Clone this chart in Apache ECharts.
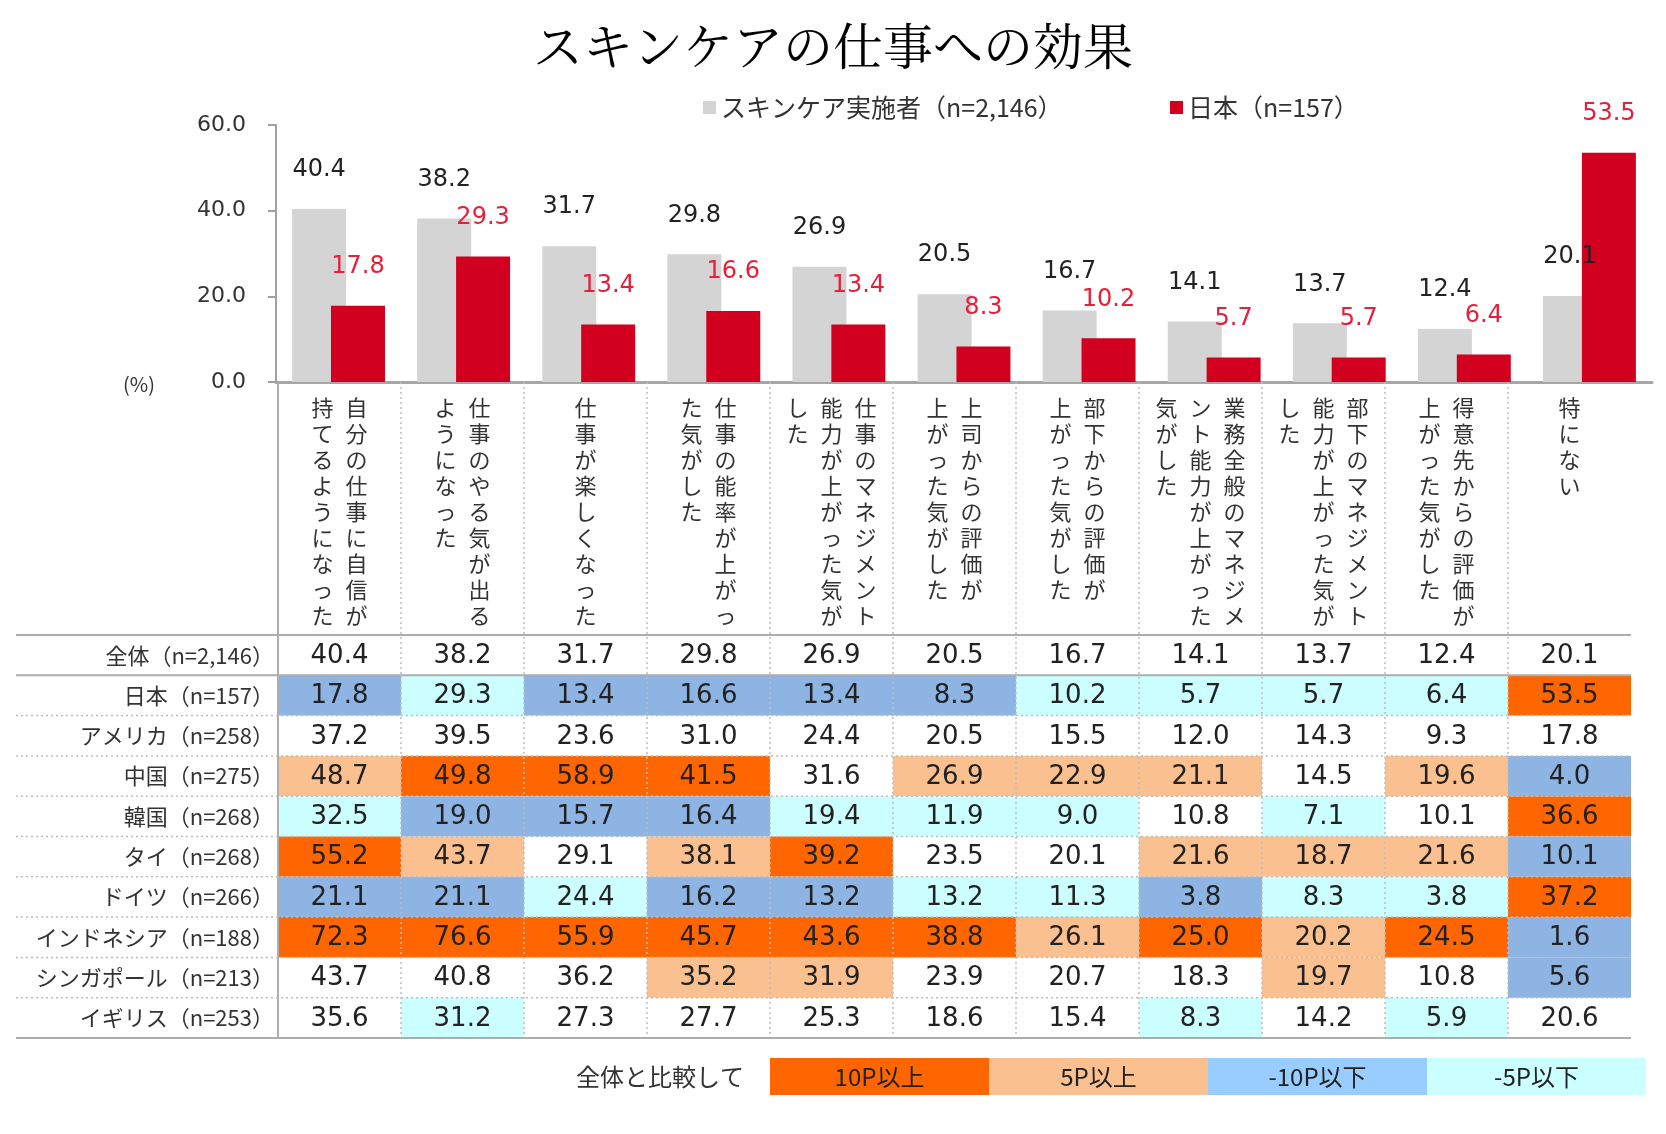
<!DOCTYPE html>
<html><head><meta charset="utf-8">
<script src="https://cdn.jsdelivr.net/npm/echarts@6/dist/echarts.min.js"></script>
<style>html,body{margin:0;padding:0;background:#fff}#c{width:1666px;height:1134px}</style>
</head><body><div id="c"></div>
<script>
// ---------- data ----------
const titleText = 'スキンケアの仕事への効果';
const categories = [
  '自分の仕事に自信が\n持てるようになった',
  '仕事のやる気が出る\nようになった',
  '仕事が楽しくなった',
  '仕事の能率が上がっ\nた気がした',
  '仕事のマネジメント\n能力が上がった気が\nした',
  '上司からの評価が\n上がった気がした',
  '部下からの評価が\n上がった気がした',
  '業務全般のマネジメ\nント能力が上がった\n気がした',
  '部下のマネジメント\n能力が上がった気が\nした',
  '得意先からの評価が\n上がった気がした',
  '特にない'
];
const seriesNames = ['スキンケア実施者（n=2,146）', '日本（n=157）'];
const overall   = [40.4, 38.2, 31.7, 29.8, 26.9, 20.5, 16.7, 14.1, 13.7, 12.4, 20.1];
const japan     = [17.8, 29.3, 13.4, 16.6, 13.4, 8.3, 10.2, 5.7, 5.7, 6.4, 53.5];
const usa       = [37.2, 39.5, 23.6, 31.0, 24.4, 20.5, 15.5, 12.0, 14.3, 9.3, 17.8];
const china     = [48.7, 49.8, 58.9, 41.5, 31.6, 26.9, 22.9, 21.1, 14.5, 19.6, 4.0];
const korea     = [32.5, 19.0, 15.7, 16.4, 19.4, 11.9, 9.0, 10.8, 7.1, 10.1, 36.6];
const thailand  = [55.2, 43.7, 29.1, 38.1, 39.2, 23.5, 20.1, 21.6, 18.7, 21.6, 10.1];
const germany   = [21.1, 21.1, 24.4, 16.2, 13.2, 13.2, 11.3, 3.8, 8.3, 3.8, 37.2];
const indonesia = [72.3, 76.6, 55.9, 45.7, 43.6, 38.8, 26.1, 25.0, 20.2, 24.5, 1.6];
const singapore = [43.7, 40.8, 36.2, 35.2, 31.9, 23.9, 20.7, 18.3, 19.7, 10.8, 5.6];
const uk        = [35.6, 31.2, 27.3, 27.7, 25.3, 18.6, 15.4, 8.3, 14.2, 5.9, 20.6];
const rowLabels = ['全体（n=2,146）', '日本（n=157）', 'アメリカ（n=258）', '中国（n=275）', '韓国（n=268）',
  'タイ（n=268）', 'ドイツ（n=266）', 'インドネシア（n=188）', 'シンガポール（n=213）', 'イギリス（n=253）'];
const tableRows = [overall, japan, usa, china, korea, thailand, germany, indonesia, singapore, uk];
// O: 10P以上, P: 5P以上, B: -10P以下, C: -5P以下, .: none
const rowCodes = [
  '...........',
  'BCBBBBCCCCO',
  '...........',
  'POOO.PPP.PB',
  'CBBBCCC.C.O',
  'OP.PO..PPPB',
  'BBCBBCCBCCO',
  'OOOOOOPOPOB',
  '...PP...P.B',
  '.C.....C.C.'
];
const legendTitle = '全体と比較して';
const legendLabels = ['10P以上', '5P以上', '-10P以下', '-5P以下'];
const yMin = 0, yMax = 60, yInterval = 20;

// ---------- styles ----------
const CJK = '"Noto Sans CJK JP", "Noto Sans", sans-serif';
const NUM = '"DejaVu Sans", Verdana, sans-serif';
const cellFill = { O: '#ff6600', P: '#fac090', B: '#8db4e2', C: '#ccffff' };
const legendFill = ['#ff6600', '#fac090', '#99ccff', '#ccffff'];
const codeKeys = ['O', 'P', 'B', 'C'];
const LABEL_AREA = 253;

function verticalLabel(s) {
  const cols = s.split('\n').map(c => Array.from(c));
  const n = 9, lines = [];
  for (let i = 0; i < n; i++) {
    const parts = [];
    for (let k = cols.length - 1; k >= 0; k--) parts.push('{c|' + (cols[k][i] || '　') + '}');
    lines.push(parts.join('{g| }'));
  }
  return lines.join('\n');
}

const cellData = [];
tableRows.forEach((row, r) => row.forEach((v, c) => {
  const ch = rowCodes[r][c];
  cellData.push([c, r, v, codeKeys.indexOf(ch) + 1]);
}));
const frameData = rowLabels.map((_, i) => [0, i]);

const chart = echarts.init(document.getElementById('c'), null, { renderer: 'canvas' });
const option = {
  backgroundColor: '#fff',
  animation: false,
  title: {
    text: titleText, left: 'center', top: 16,
    textStyle: { fontSize: 50, fontWeight: 'normal', color: '#000',
      fontFamily: '"Noto Serif CJK JP", "Noto Sans CJK JP", serif' }
  },
  legend: [
    { data: [seriesNames[0]], left: 698, top: 90, icon: 'rect', itemWidth: 13, itemHeight: 13,
      textStyle: { fontSize: 25, color: '#333', fontFamily: CJK } },
    { data: [seriesNames[1]], left: 1165, top: 90, icon: 'rect', itemWidth: 13, itemHeight: 13,
      textStyle: { fontSize: 25, color: '#333', fontFamily: CJK } }
  ],
  grid: [
    { left: 276, right: 14, top: 125, height: 257, outerBoundsMode: 'none' },
    { left: 278, right: 35, top: 635, height: 403, outerBoundsMode: 'none' }
  ],
  xAxis: [
    { type: 'category', gridIndex: 0, data: categories,
      axisLine: { lineStyle: { color: '#a6a6a6', width: 3 } },
      axisTick: { show: false }, axisLabel: { show: false }, splitLine: { show: false } },
    { type: 'category', gridIndex: 1, data: categories, position: 'top',
      axisLine: { show: false }, axisTick: { show: false }, splitLine: { show: false },
      axisLabel: {
        interval: 0, margin: 6, formatter: verticalLabel,
        rich: {
          c: { width: 23, align: 'center', fontSize: 22, lineHeight: 26, color: '#333', fontFamily: CJK },
          g: { width: 11, fontSize: 22, lineHeight: 26 }
        }
      } }
  ],
  yAxis: [
    { type: 'value', gridIndex: 0, min: yMin, max: yMax, interval: yInterval,
      axisLine: { show: true, lineStyle: { color: '#a0a0a0', width: 2 } },
      axisTick: { show: true, length: 8, lineStyle: { color: '#a0a0a0', width: 2 } },
      splitLine: { show: false },
      axisLabel: { margin: 30, fontSize: 22, color: '#333', fontFamily: NUM,
        formatter: v => v.toFixed(1) } },
    { type: 'category', gridIndex: 1, data: rowLabels, inverse: true,
      axisLine: { show: false }, axisTick: { show: false }, splitLine: { show: false },
      axisLabel: { margin: 4, fontSize: 22, color: '#333', fontFamily: CJK } }
  ],
  series: [
    { name: seriesNames[0], type: 'bar', xAxisIndex: 0, yAxisIndex: 0, data: overall,
      barWidth: 54, barGap: '-28%', itemStyle: { color: '#d4d4d4' },
      label: { show: true, position: 'top', distance: 27, color: '#222', fontSize: 24, fontFamily: NUM,
        formatter: p => p.value.toFixed(1) }, z: 2 },
    { name: seriesNames[1], type: 'bar', xAxisIndex: 0, yAxisIndex: 0, data: japan,
      barWidth: 54, itemStyle: { color: '#d2001e' },
      label: { show: true, position: 'top', distance: 27, color: '#e5203a', fontSize: 24, fontFamily: NUM,
        formatter: p => p.value.toFixed(1) }, z: 2 },
    { type: 'custom', xAxisIndex: 1, yAxisIndex: 1, data: cellData, z: 2,
      renderItem: (params, api) => {
        const p = api.coord([api.value(0), api.value(1)]);
        const sz = api.size([1, 1]);
        const code = api.value(3);
        const children = [];
        if (code > 0) children.push({ type: 'rect',
          shape: { x: p[0] - sz[0] / 2, y: p[1] - sz[1] / 2, width: sz[0], height: sz[1] },
          style: { fill: cellFill[codeKeys[code - 1]] } });
        children.push({ type: 'text', x: p[0], y: p[1] + 1,
          style: { text: api.value(2).toFixed(1), align: 'center', verticalAlign: 'middle',
            fontSize: 26, fontFamily: NUM, fill: '#222' } });
        return { type: 'group', children };
      } },
    { type: 'custom', xAxisIndex: 1, yAxisIndex: 1, data: frameData, z: 5, silent: true,
      renderItem: (params, api) => {
        const i = api.value(1);
        const p = api.coord([0, i]);
        const sz = api.size([1, 1]);
        const left = p[0] - sz[0] / 2, right = left + sz[0] * categories.length;
        const top = p[1] - sz[1] / 2, bottom = top + sz[1];
        const solid = { stroke: '#adadad', lineWidth: 2 };
        const dotted = { stroke: '#bdbdbd', lineWidth: 1.5, lineDash: [2, 3] };
        const last = rowLabels.length - 1;
        const children = [{ type: 'line', shape: { x1: 16, y1: bottom, x2: right, y2: bottom },
          style: (i === 0 || i === last) ? solid : dotted }];
        if (i === 0) {
          children.push({ type: 'line', shape: { x1: 16, y1: top, x2: right, y2: top }, style: solid });
          const tableBottom = top + sz[1] * rowLabels.length;
          for (let k = 0; k < categories.length; k++) {
            const x = left + k * sz[0];
            children.push({ type: 'line', shape: { x1: x, y1: top - LABEL_AREA, x2: x, y2: tableBottom },
              style: k === 0 ? solid : dotted });
          }
        }
        return { type: 'group', children };
      } }
  ],
  graphic: [
    { type: 'text', x: 139, y: 384, style: { text: '(%)', align: 'center', verticalAlign: 'middle',
      fontSize: 20, fill: '#333', fontFamily: CJK } },
    { type: 'text', x: 744, y: 1077, style: { text: legendTitle, align: 'right', verticalAlign: 'middle',
      fontSize: 24, fill: '#333', fontFamily: CJK } }
  ].concat(legendLabels.map((t, i) => ({
    type: 'group', children: [
      { type: 'rect', shape: { x: 770 + i * 219, y: 1058, width: 219, height: 37 }, style: { fill: legendFill[i] } },
      { type: 'text', x: 770 + i * 219 + 109.5, y: 1077, style: { text: t, align: 'center', verticalAlign: 'middle',
        fontSize: 24, fill: '#222', fontFamily: CJK } }
    ] })))
};
chart.setOption(option);
</script></body></html>
